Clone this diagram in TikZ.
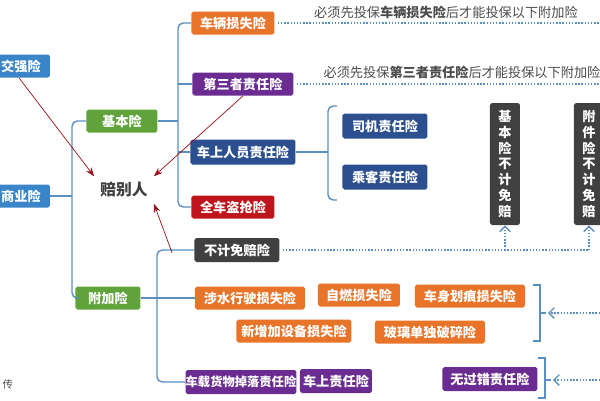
\documentclass[tikz,border=0pt]{standalone}
\usepackage{fontspec}
\setmainfont{Noto Sans CJK SC}
\usetikzlibrary{arrows.meta}
\definecolor{bxblue}{HTML}{3A85C8}
\definecolor{bxgreen}{HTML}{5FA33A}
\definecolor{bxorange}{HTML}{E8742A}
\definecolor{bxpurple}{HTML}{6A2C91}
\definecolor{bxnavy}{HTML}{2B4F8F}
\definecolor{bxred}{HTML}{C0141C}
\definecolor{bxdark}{HTML}{404040}
\definecolor{treeline}{HTML}{5B8FC0}
\newlength{\unitpx}\setlength{\unitpx}{0.02cm}
\tikzset{
  box/.style={fill=#1, text=white, font=\fontsize{7.5}{9}\selectfont\bfseries,
    rounded corners=1pt, inner sep=0pt, minimum height=23\unitpx},
  tree/.style={treeline, thick},
  note/.style={text=black!70, font=\fontsize{7.5}{9}\selectfont},
  dots/.style={treeline, densely dotted, thick},
  red arrow/.style={bxred!80!black, -{Stealth[length=5pt]}}
}

\begin{document}
\begin{tikzpicture}[x=0.02cm, y=-0.02cm]
        \useasboundingbox (0,0) rectangle (600,400);

        % left column
        \node[box=bxblue, minimum width=58\unitpx] (jq) at (21,66) {交强险};
        \node[box=bxblue, minimum width=58\unitpx] (sy) at (21,196) {商业险};
        \node[box=bxgreen, minimum width=71\unitpx] (jb) at (122,121) {基本险};
        \node[box=bxgreen, minimum width=65\unitpx] (fj) at (108,298) {附加险};
        \node[text=bxdark, font=\fontsize{9}{10}\selectfont\bfseries] (pbr) at (124,190) {赔别人};

        % basic insurance
        \node[box=bxorange, minimum width=83\unitpx] (cl) at (233,23) {车辆损失险};
        \node[box=bxpurple, minimum width=101\unitpx] (ds) at (243,84) {第三者责任险};
        \node[box=bxnavy, minimum width=105\unitpx, minimum height=25\unitpx] (cs) at (243,152) {车上人员责任险};
        \node[box=bxred, minimum width=83\unitpx] (qc) at (233,207) {全车盗抢险};
        \node[box=bxnavy, minimum width=85\unitpx, minimum height=25\unitpx] (sj) at (385,126) {司机责任险};
        \node[box=bxnavy, minimum width=85\unitpx, minimum height=25\unitpx] (ck) at (385,177) {乘客责任险};

        % deductible columns
        \node[box=bxdark, minimum width=30\unitpx, minimum height=122\unitpx, align=center] (jbv) at (505,164) {基\\本\\险\\不\\计\\免\\赔};
        \node[box=bxdark, minimum width=30\unitpx, minimum height=122\unitpx, align=center] (fjv) at (589,164) {附\\件\\险\\不\\计\\免\\赔};

        % additional insurance
        \node[box=bxdark, minimum width=85\unitpx, minimum height=24\unitpx] (bj) at (237,250) {不计免赔险};
        \node[box=bxorange, minimum width=110\unitpx] (ss) at (250,298) {涉水行驶损失险};
        \node[box=bxorange, minimum width=82\unitpx] (zr) at (359,295) {自燃损失险};
        \node[box=bxorange, minimum width=110\unitpx] (ch) at (470,296) {车身划痕损失险};
        \node[box=bxorange, minimum width=115\unitpx] (xz) at (294,331) {新增加设备损失险};
        \node[box=bxorange, minimum width=110\unitpx] (bl) at (430,332) {玻璃单独破碎险};
        \node[box=bxpurple, minimum width=98\unitpx, minimum height=24\unitpx, font=\fontsize{7}{8}\selectfont\bfseries] (hw) at (241,382) {车载货物掉落责任险};
        \node[box=bxpurple, minimum width=72\unitpx, minimum height=24\unitpx] (cz) at (336,381) {车上责任险};
        \node[box=bxpurple, minimum width=95\unitpx, minimum height=24\unitpx] (wg) at (490,379) {无过错责任险};

        % notes
        \node[note] (n1) at (446,12) {必须先投保\textbf{车辆损失险}后才能投保以下附加险};
        \node[note] (n2) at (462,72) {必须先投保\textbf{第三者责任险}后才能投保以下附加险};
        \node[text=black!70, font=\fontsize{6}{7}\selectfont] (cu) at (8,385) {传};

        % tree lines
        \draw[tree, rounded corners=3pt] (jb.west) -| (72,196) |- (fj.west);
        \draw[tree] (sy.east) -- (72,196);
        \draw[tree, rounded corners=3pt] (cl.west) -| (178,121) |- (qc.west);
        \draw[tree] (ds.west) -- (178,84);
        \draw[tree] (cs.west) -- (178,152);
        \draw[tree] (jb.east) -- (178,121);
        \draw[tree, rounded corners=3pt] (bj.west) -| (157,298) |- (hw.west);
        \draw[tree] (fj.east) -- (157,298);
        \draw[tree] (ss.west) -- (157,298);
        \draw[tree, rounded corners=3pt] (337,106) -| (328,152) |- (337,200);
        \draw[tree] (cs.east) -- (328,152);

        % right braces
        \draw[tree] (533,285) -- (540,285) -- (540,341) -- (533,341);
        \draw[tree] (540,313) -- (546,313);
        \draw[tree] (538,358) -- (545,358) -- (545,398) -- (538,398);
        \draw[tree] (545,380) -- (551,380);

        % dotted lines
        \draw[dots] (cl.east) ++(3,0) -- (600,23);
        \draw[dots] (ds.east) ++(3,0) -- (600,84);
        \draw[dots] (bj.east) ++(3,0) -- (589,250);
        \draw[dots, -{Straight Barb[length=3pt]}] (505,250) -- (jbv.south);
        \draw[dots, -{Straight Barb[length=3pt]}] (589,250) -- (fjv.south);
        \draw[dots, -{Straight Barb[length=3pt]}] (600,313) -- (548,313);
        \draw[dots, -{Straight Barb[length=3pt]}] (600,380) -- (553,380);

        % red arrows
        \draw[red arrow] (jq.south) ++(-2,0) -- (pbr.north west);
        \draw[red arrow] (ds.south) -- (pbr.north east);
        \draw[red arrow] (bj.west) ++(-22,3) -- (pbr.south east);
        \end{tikzpicture}
\end{document}
